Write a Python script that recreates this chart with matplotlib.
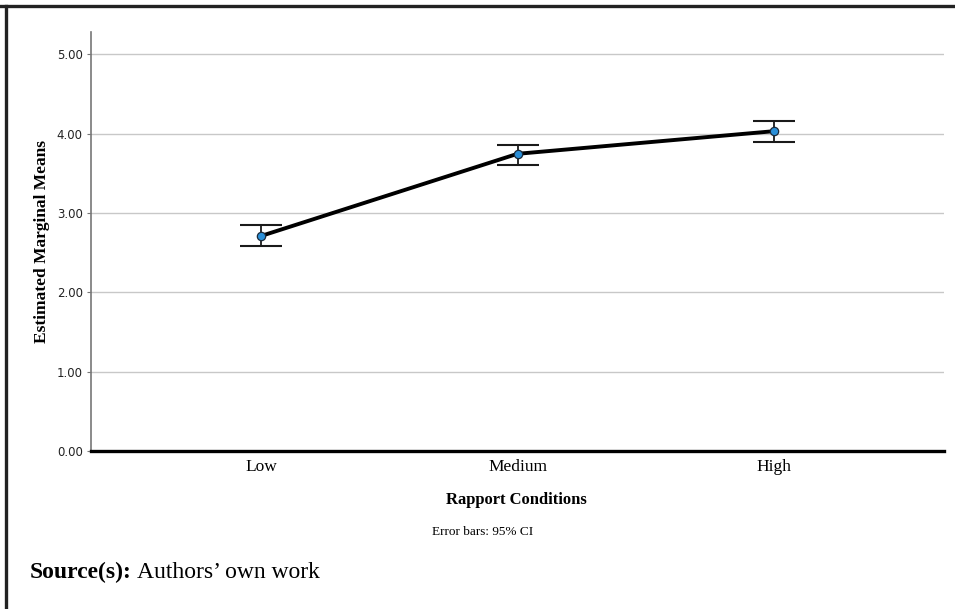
import matplotlib
matplotlib.use('Agg')
import matplotlib.pyplot as plt
from matplotlib.lines import Line2D
import numpy as np

# estimated marginal means with 95% CI
conditions = ['Low', 'Medium', 'High']
means = [2.71, 3.745, 4.03]
ci_low = [2.58, 3.606, 3.896]
ci_high = [2.848, 3.858, 4.155]
yticks = [0, 1, 2, 3, 4, 5]

serif = 'Liberation Serif'

fig = plt.figure(figsize=(9.55, 6.09), dpi=100)
fig.set_facecolor('white')
ax = fig.add_axes([91/955, 1 - 451/609, (944 - 91)/955, (451 - 32)/609])

x = np.arange(len(conditions))
m = np.array(means)
err = [m - np.array(ci_low), np.array(ci_high) - m]

ax.errorbar(x, m, yerr=err, fmt='none', ecolor='#1a1a1a', elinewidth=1.3,
            capsize=15, capthick=1.5, zorder=3)
ax.plot(x, m, color='black', lw=2.8, zorder=4)
ax.plot(x, m, 'o', ms=6, mfc='#2a8fd8', mec='#1a2a3a', mew=0.9, zorder=5)

ax.set_xlim(-0.664, 2.664)
ax.set_ylim(0, 5.28)
ax.set_yticks(yticks)
ax.set_yticklabels(['%.2f' % v for v in yticks], fontsize=8.5,
                   family='DejaVu Sans', color='#222222')
ax.set_xticks(x)
ax.set_xticklabels(conditions, fontsize=12.5, family=serif)
ax.tick_params(axis='x', length=0, pad=6)
ax.tick_params(axis='y', length=3, color='#777777', pad=3)

ax.grid(axis='y', color='#c8c8c8', lw=1)
ax.set_axisbelow(True)
for s in ['top', 'right']:
    ax.spines[s].set_visible(False)
ax.spines['left'].set_color('#777777')
ax.spines['left'].set_linewidth(1.2)
ax.spines['bottom'].set_color('black')
ax.spines['bottom'].set_linewidth(2.4)
ax.spines['bottom'].set_zorder(6)

ax.set_ylabel('Estimated Marginal Means', fontsize=12.5, family=serif,
              fontweight='bold', labelpad=5)

fig.text(516/955, 1 - 500/609, 'Rapport Conditions', fontsize=12, family=serif,
         fontweight='bold', ha='center', va='center')
fig.text(483/955, 1 - 532/609, 'Error bars: 95% CI', fontsize=9.5, family=serif,
         ha='center', va='center')
fig.text(30/955, 1 - 572/609, 'Source(s):', fontsize=17, family=serif,
         fontweight='bold', ha='left', va='center')
fig.text(30/955 + 0.1125, 1 - 572/609, 'Authors\u2019 own work', fontsize=17,
         family=serif, ha='left', va='center')

# frame border on top and left
fig.add_artist(Line2D([0, 1], [1 - 5.5/609, 1 - 5.5/609], transform=fig.transFigure,
                      color='#222222', lw=2.4))
fig.add_artist(Line2D([5.5/955, 5.5/955], [0, 1 - 5.5/609], transform=fig.transFigure,
                      color='#222222', lw=2.4))

plt.savefig('out.png', dpi=100)
